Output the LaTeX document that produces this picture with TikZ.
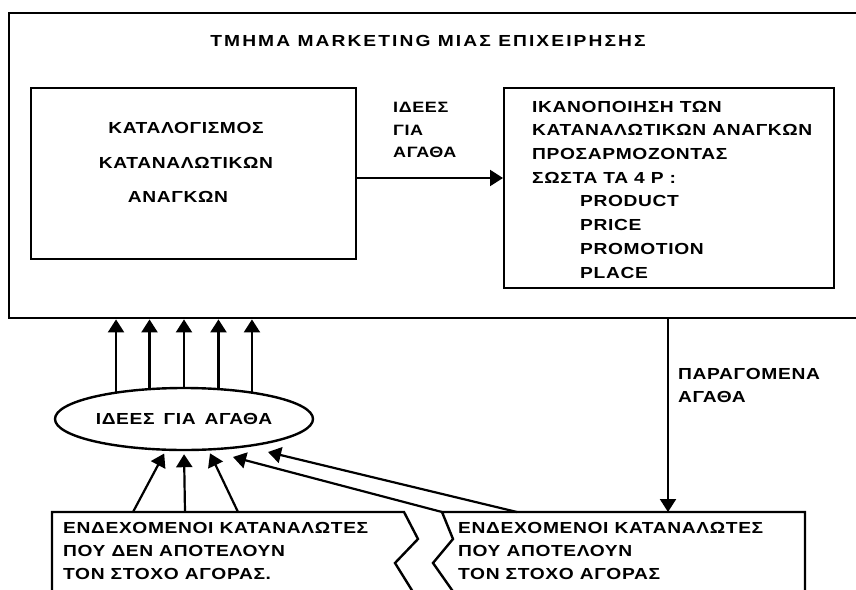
\documentclass[tikz,border=0pt]{standalone}
\usepackage{fontspec}
\setmainfont{Liberation Sans}[FakeStretch=1.2, LetterSpace=4]
\usetikzlibrary{arrows.meta,shapes.geometric}
\begin{document}
\begin{tikzpicture}[x=1pt,y=-1pt,
  lbl/.style={font=\bfseries\fontsize{16}{23.5}\selectfont, inner sep=0pt, align=left, anchor=north west},
  frame/.style={draw, line width=2.4pt, inner sep=0pt, anchor=north west},
  conn/.style={line width=2.2pt, -{Triangle[width=16pt,length=13pt]}},
  edge/.style={line width=2.4pt, line join=miter},
]
\useasboundingbox (0,0) rectangle (856,589);
\clip (0,0) rectangle (856,589);

% marketing department frame (its right side runs past the page edge)
\node[frame, minimum width=900pt, minimum height=305pt] (dept) at (8,12) {};
\node[lbl, anchor=base] (title) at (428,46) {\addfontfeatures{LetterSpace=13}ΤΜΗΜΑ MARKETING ΜΙΑΣ ΕΠΙΧΕΙΡΗΣΗΣ};

% cataloguing of consumer needs
\node[frame, minimum width=325pt, minimum height=171pt] (needs) at (30,87) {};
\node[lbl, align=center, anchor=center, font=\bfseries\fontsize{16}{34.5}\selectfont] (needstxt) at (186,162.5)
  {ΚΑΤΑΛΟΓΙΣΜΟΣ\\ΚΑΤΑΝΑΛΩΤΙΚΩΝ\\\hspace*{-16pt}ΑΝΑΓΚΩΝ};

% satisfying needs with the 4 P
\node[frame, minimum width=330pt, minimum height=200pt] (fourp) at (503,87) {};
\node[lbl, font=\bfseries\fontsize{16}{23.7}\selectfont] (fourptxt) at (532,100.75)
  {ΙΚΑΝΟΠΟΙΗΣΗ ΤΩΝ\\ΚΑΤΑΝΑΛΩΤΙΚΩΝ ΑΝΑΓΚΩΝ\\ΠΡΟΣΑΡΜΟΖΟΝΤΑΣ\\ΣΩΣΤΑ ΤΑ 4 P :\\
   \hspace*{48pt}PRODUCT\\\hspace*{48pt}PRICE\\\hspace*{48pt}PROMOTION\\\hspace*{48pt}PLACE};

\node[lbl, font=\bfseries\fontsize{15}{22.5}\selectfont] (idealbl) at (393,102) {ΙΔΕΕΣ\\ΓΙΑ\\ΑΓΑΘΑ};
\draw[conn] (needs.east |- 0,178) -- (fourp.west |- 0,178);

% ideas for goods
\node[draw, ellipse, line width=2.4pt, minimum width=258pt, minimum height=62pt, inner sep=0pt,
      font=\bfseries\fontsize{16}{20}\selectfont] (ideas) at (184,419)
  {ΙΔΕΕΣ\hspace{9pt}ΓΙΑ\hspace{9pt}ΑΓΑΘΑ};
\foreach \a in {158.4,138.7,90,42.2,22.4}
  \draw[conn] (ideas.\a) -- (ideas.\a |- dept.south);

% potential consumers outside / inside the target market
\draw[edge] (52,600) -- (52,512) -- (404,512) -- (418,539) -- (395,563) -- (418,600);
\draw[edge] (459,600) -- (433,563) -- (453,539) -- (442,512) -- (805,512) -- (805,600);
\node[lbl, font=\bfseries\fontsize{16}{23}\selectfont] (others) at (63,522)
  {ΕΝΔΕΧΟΜΕΝΟΙ ΚΑΤΑΝΑΛΩΤΕΣ\\ΠΟΥ ΔΕΝ ΑΠΟΤΕΛΟΥΝ\\ΤΟΝ ΣΤΟΧΟ ΑΓΟΡΑΣ.};
\node[lbl, font=\bfseries\fontsize{16}{23}\selectfont] (target) at (458,522)
  {ΕΝΔΕΧΟΜΕΝΟΙ ΚΑΤΑΝΑΛΩΤΕΣ\\ΠΟΥ ΑΠΟΤΕΛΟΥΝ\\ΤΟΝ ΣΤΟΧΟ ΑΓΟΡΑΣ};

\coordinate (o1) at (133,512);
\coordinate (o2) at (185,512);
\coordinate (o3) at (238,512);
\coordinate (t1) at (442,512);
\coordinate (t2) at (517,512);
\coordinate (t3) at (668,512);
\coordinate (tipA) at (233,457);
\coordinate (tipB) at (268,452);

\draw[conn, shorten >=3pt] (o1) -- (ideas.240.8);
\draw[conn, shorten >=3pt] (o2) -- (ideas.270);
\draw[conn, shorten >=3pt] (o3) -- (ideas.308);
\draw[conn] (t1) -- (tipA);
\draw[conn] (t2) -- (tipB);

% produced goods
\draw[conn] (dept.south -| t3) -- (t3);
\node[lbl, font=\bfseries\fontsize{16}{23}\selectfont] (prodlbl) at (678,368) {ΠΑΡΑΓΟΜΕΝΑ\\ΑΓΑΘΑ};
\end{tikzpicture}
\end{document}
